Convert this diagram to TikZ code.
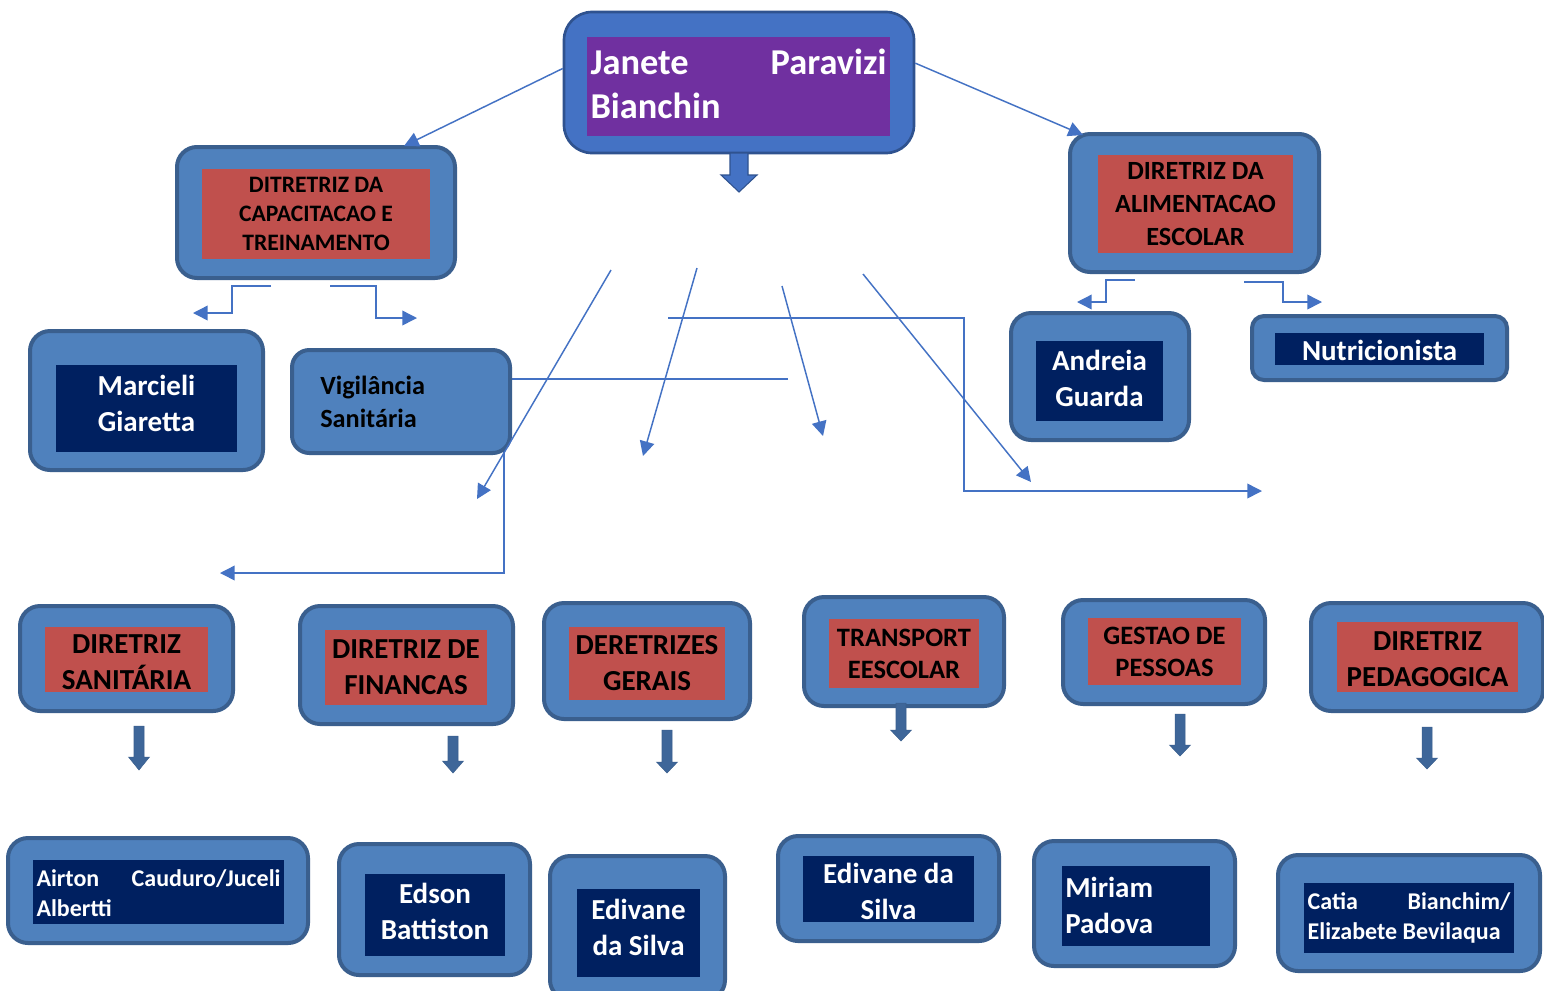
\documentclass[tikz,border=0pt]{standalone}
\usepackage{fontspec}
\setmainfont{Carlito}
\usetikzlibrary{fit,arrows.meta}
\definecolor{boxc}{HTML}{4F81BD}
\definecolor{bordc}{HTML}{3A5F8E}
\definecolor{topc}{HTML}{4472C4}
\definecolor{topb}{HTML}{2F528F}
\definecolor{redc}{HTML}{C0504D}
\definecolor{navyc}{HTML}{002060}
\definecolor{purpc}{HTML}{7030A0}
\definecolor{linec}{HTML}{4472C4}
\definecolor{barrowc}{HTML}{3E6699}
\newcommand{\blockarr}[4]{%
  \filldraw[fill=barrowc, draw=bordc, line width=0.4pt]
    ({#1-5},#2) -- ({#1+5},#2) -- ({#1+5},#3) -- ({#1+10.5},#3) -- (#1,#4)
    -- ({#1-10.5},#3) -- ({#1-5},#3) -- cycle;}
\begin{document}
\begin{tikzpicture}[x=0.75pt,y=-0.75pt,
  outerbox/.style={draw=bordc, fill=boxc, line width=3pt, rounded corners=15pt, inner sep=0pt},
  topbox/.style={draw=topb, fill=topc, line width=2pt, rounded corners=21pt, inner sep=0pt},
  redbox/.style={fill=redc, inner sep=0pt},
  navybox/.style={fill=navyc, inner sep=0pt},
  purpbox/.style={fill=purpc, inner sep=0pt},
  redtxt/.style={text=black, align=center, inner sep=0pt},
  navytxt/.style={text=white, align=center, inner sep=0pt},
  conn/.style={draw=linec, line width=1.1pt, -{Triangle[length=11pt,width=11pt]}},
  fname/.style={font=\fontsize{21.75}{27}\selectfont\bfseries},
  fred/.style={font=\fontsize{21.75}{27}\selectfont\bfseries},
  fredm/.style={font=\fontsize{19.9}{24}\selectfont\bfseries},
  fali/.style={font=\fontsize{19.7}{24.75}\selectfont\bfseries},
  fcap/.style={font=\fontsize{17.7}{21.75}\selectfont\bfseries},
  fsmall/.style={font=\fontsize{18}{22.5}\selectfont\bfseries}
]
\useasboundingbox[fill=white] (0,0) rectangle (1544,990);

% ---------- connectors drawn behind boxes ----------
\coordinate (v1) at (788,379);
\coordinate (v2) at (504,379);
\coordinate (v3) at (504,573);
\coordinate (v4) at (220,573);
\draw[conn] (v1) -- (v2) -- (v3) -- (v4);

\coordinate (h1) at (668,318);
\coordinate (h2) at (964,318);
\coordinate (h3) at (964,491);
\coordinate (h4) at (1262,491);
\draw[conn] (h1) -- (h2) -- (h3) -- (h4);

% ---------- top box ----------
\node[topbox, fit={(564,12)(914,153)}] (top) {};
\node[purpbox, fit={(587,37)(890,136)}] (topin) {};
\node[text=white, inner sep=0pt] (toptext) at ([yshift=2pt]topin.center)
  {\parbox{222pt}{\fontsize{27.3}{33.5}\selectfont\bfseries Janete\hfill Paravizi\\Bianchin}};
\filldraw[fill=topc, draw=topb, line width=0.8pt]
  (730,153) -- (748,153) -- (748,175) -- (757,175) -- (739,192) -- (721,175) -- (730,175) -- cycle;

% ---------- second level ----------
\node[outerbox, fit={(177,147)(455,278)}] (cap) {};
\node[redbox, fit={(202,169)(430,259)}] (capin) {};
\node[redtxt, fcap] (captext) at (capin.center) {DITRETRIZ DA\\CAPACITACAO E\\TREINAMENTO};

\node[outerbox, fit={(1070,134)(1319,272)}] (ali) {};
\node[redbox, fit={(1098,155)(1293,253)}] (aliin) {};
\node[redtxt, fali] (alitext) at (aliin.center) {DIRETRIZ DA\\ALIMENTACAO\\ESCOLAR};

\coordinate (t1) at (404,146);
\coordinate (t2) at (1083,135);
\draw[conn] ([yshift=10.5pt]top.west) -- (t1);
\draw[conn] ([yshift=14.5pt]top.east) -- (t2);

% ---------- third level ----------
\node[outerbox, fit={(30,331)(263,470)}] (marc) {};
\node[navybox, fit={(56,365)(237,452)}] (marcin) {};
\node[navytxt, fname] (marctext) at ([yshift=3.75pt]marcin.center) {Marcieli\\Giaretta};

\node[outerbox, rounded corners=13pt, fit={(292,350)(510,453)}] (vig) {};
\node[fali, text=black, align=left, anchor=west, inner sep=0pt] (vigtext) at (320,402) {Vigilância\\Sanitária};

\node[outerbox, fit={(1011,313)(1189,440)}] (andr) {};
\node[navybox, fit={(1036,341)(1163,421)}] (andrin) {};
\node[navytxt, fname] (andrtext) at ([yshift=2.25pt]andrin.center) {Andreia\\Guarda};

\node[outerbox, rounded corners=9pt, fit={(1252,316)(1507,380)}] (nutr) {};
\node[navybox, fit={(1275,333)(1484,365)}] (nutrin) {};
\node[navytxt, fname] (nutrtext) at ([yshift=-1pt]nutrin.center) {Nutricionista};

% elbow connectors
\coordinate (e1) at (271,286); \coordinate (e2) at (232,286);
\coordinate (e3) at (232,313); \coordinate (e4) at (193,313);
\draw[conn] (e1) -- (e2) -- (e3) -- (e4);
\coordinate (f1) at (330,286); \coordinate (f2) at (376,286);
\coordinate (f3) at (376,318); \coordinate (f4) at (417,318);
\draw[conn] (f1) -- (f2) -- (f3) -- (f4);
\coordinate (g1) at (1135,280); \coordinate (g2) at (1106,280);
\coordinate (g3) at (1106,302); \coordinate (g4) at (1077,302);
\draw[conn] (g1) -- (g2) -- (g3) -- (g4);
\coordinate (k1) at (1244,282); \coordinate (k2) at (1283,282);
\coordinate (k3) at (1283,302); \coordinate (k4) at (1322,302);
\draw[conn] (k1) -- (k2) -- (k3) -- (k4);

% diagonal arrows
\coordinate (d1a) at (611,270); \coordinate (d1b) at (477,499);
\coordinate (d2a) at (697,268); \coordinate (d2b) at (643,456);
\coordinate (d3a) at (782,286); \coordinate (d3b) at (823,436);
\coordinate (d4a) at (863,274); \coordinate (d4b) at (1031,482);
\draw[conn] (d1a) -- (d1b);
\draw[conn] (d2a) -- (d2b);
\draw[conn] (d3a) -- (d3b);
\draw[conn] (d4a) -- (d4b);

% ---------- fourth level ----------
\node[outerbox, fit={(20,606)(233,711)}] (san) {};
\node[redbox, fit={(45,627)(208,692)}] (sanin) {};
\node[redtxt, fred] (santext) at ([yshift=-2.25pt]sanin.center) {DIRETRIZ\\SANITÁRIA};

\node[outerbox, fit={(300,606)(513,724)}] (fin) {};
\node[redbox, fit={(325,630)(487,705)}] (finin) {};
\node[redtxt, fred] (fintext) at (finin.center) {DIRETRIZ DE\\FINANCAS};

\node[outerbox, fit={(544,603)(750,719)}] (ger) {};
\node[redbox, fit={(569,627)(725,700)}] (gerin) {};
\node[redtxt, fred] (gertext) at (gerin.center) {DERETRIZES\\GERAIS};

\node[outerbox, fit={(804,597)(1004,706)}] (tra) {};
\node[redbox, fit={(829,619)(979,688)}] (train) {};
\node[redtxt, fredm] (tratext) at (train.center) {TRANSPORT\\EESCOLAR};

\node[outerbox, fit={(1063,600)(1265,704)}] (ges) {};
\node[redbox, fit={(1088,618)(1241,685)}] (gesin) {};
\node[redtxt, fredm] (gestext) at (gesin.center) {GESTAO DE\\PESSOAS};

\node[outerbox, fit={(1311,603)(1543,711)}] (ped) {};
\node[redbox, fit={(1337,622)(1518,692)}] (pedin) {};
\node[redtxt, fred] (pedtext) at ([yshift=-1.5pt]pedin.center) {DIRETRIZ\\PEDAGOGICA};

% block arrows
\blockarr{139}{726}{757}{770}
\blockarr{453}{736}{761}{773}
\blockarr{667}{730}{762}{773}
\blockarr{901}{703}{730}{741}
\blockarr{1180}{714}{745}{756}
\blockarr{1427}{727}{758}{769}

% ---------- fifth level ----------
\node[outerbox, fit={(8,838)(308,943)}] (air) {};
\node[navybox, fit={(33,860)(284,924)}] (airin) {};
\node[text=white, inner sep=0pt] (airtext) at ([yshift=-1pt]airin.center)
  {\parbox{183pt}{\fontsize{18}{22.5}\selectfont\bfseries Airton\hfill Cauduro/Juceli\\Albertti}};

\node[outerbox, fit={(339,844)(530,975)}] (eds) {};
\node[navybox, fit={(365,874)(505,956)}] (edsin) {};
\node[navytxt, fname] (edstext) at ([yshift=3pt]edsin.center) {Edson\\Battiston};

\node[outerbox, fit={(550,856)(725,1000)}] (edv) {};
\node[navybox, fit={(577,889)(700,977)}] (edvin) {};
\node[navytxt, fname] (edvtext) at ([yshift=4.5pt]edvin.center) {Edivane\\da Silva};

\node[outerbox, fit={(778,836)(999,941)}] (edw) {};
\node[navybox, fit={(803,856)(974,922)}] (edwin) {};
\node[navytxt, fname] (edwtext) at ([yshift=-1.5pt]edwin.center) {Edivane da\\Silva};

\node[outerbox, fit={(1034,841)(1235,966)}] (mir) {};
\node[navybox, fit={(1062,866)(1210,946)}] (mirin) {};
\node[fname, text=white, align=left, anchor=west, inner sep=0pt] (mirtext) at (1065,905) {Miriam\\Padova};

\node[outerbox, fit={(1278,855)(1540,971)}] (cat) {};
\node[navybox, fit={(1304,883)(1514,953)}] (catin) {};
\node[text=white, inner sep=0pt] (cattext) at (catin.center)
  {\parbox{152pt}{\fontsize{18}{22.5}\selectfont\bfseries Catia\hfill Bianchim/\\Elizabete Bevilaqua}};
\end{tikzpicture}
\end{document}
